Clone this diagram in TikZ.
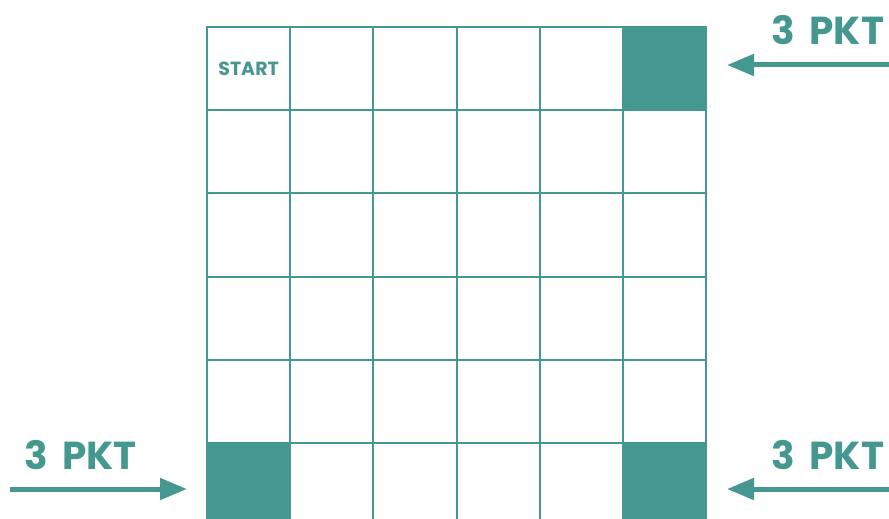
\documentclass[tikz,border=0pt]{standalone}
\usepackage{fontspec}
\setmainfont{Poppins}
\usetikzlibrary{arrows.meta,positioning,calc}
\definecolor{teal}{RGB}{69,152,143}

\begin{document}
\begin{tikzpicture}[
  x=1pt, y=-1pt,
  cell/.style = {draw=teal, line width=2pt, minimum size=83.17pt, inner sep=0pt, outer sep=0pt},
  goal/.style = {cell, fill=teal},
  pktarrow/.style = {draw=teal, line width=5pt, -{Triangle[length=27pt, width=21pt]}},
  pkt/.style = {text=teal, font=\bfseries\fontsize{39}{40}\selectfont, inner sep=0pt}
]
\useasboundingbox (0,0) rectangle (889,519);
\clip (0,0) rectangle (889,519);

% board
\foreach \r in {0,...,5}
  \foreach \c in {0,...,5}
    \node[cell] (c-\r-\c) at ({248.6+83.17*\c},{68.6+83.17*\r}) {};

\node[goal] at (c-0-5) {};
\node[goal] at (c-5-0) {};
\node[goal] at (c-5-5) {};

\node[text=teal, font=\bfseries\fontsize{19}{20}\selectfont] (start) at (c-0-0) {START};

% arrows to the corners
\coordinate (tail-tr) at (895,65);
\coordinate (tail-br) at (895,489);
\coordinate (tail-bl) at (10,489);

\draw[pktarrow] (tail-tr) -- (727,65);
\draw[pktarrow] (tail-br) -- (727,489);
\draw[pktarrow] (tail-bl) -- (187,489);

\node[pkt] (pkt-tr) at (828,30) {3\hspace{14pt}PKT};
\node[pkt] (pkt-br) at (828,455) {3\hspace{14pt}PKT};
\node[pkt] (pkt-bl) at (81,455) {3\hspace{14pt}PKT};

\end{tikzpicture}
\end{document}
